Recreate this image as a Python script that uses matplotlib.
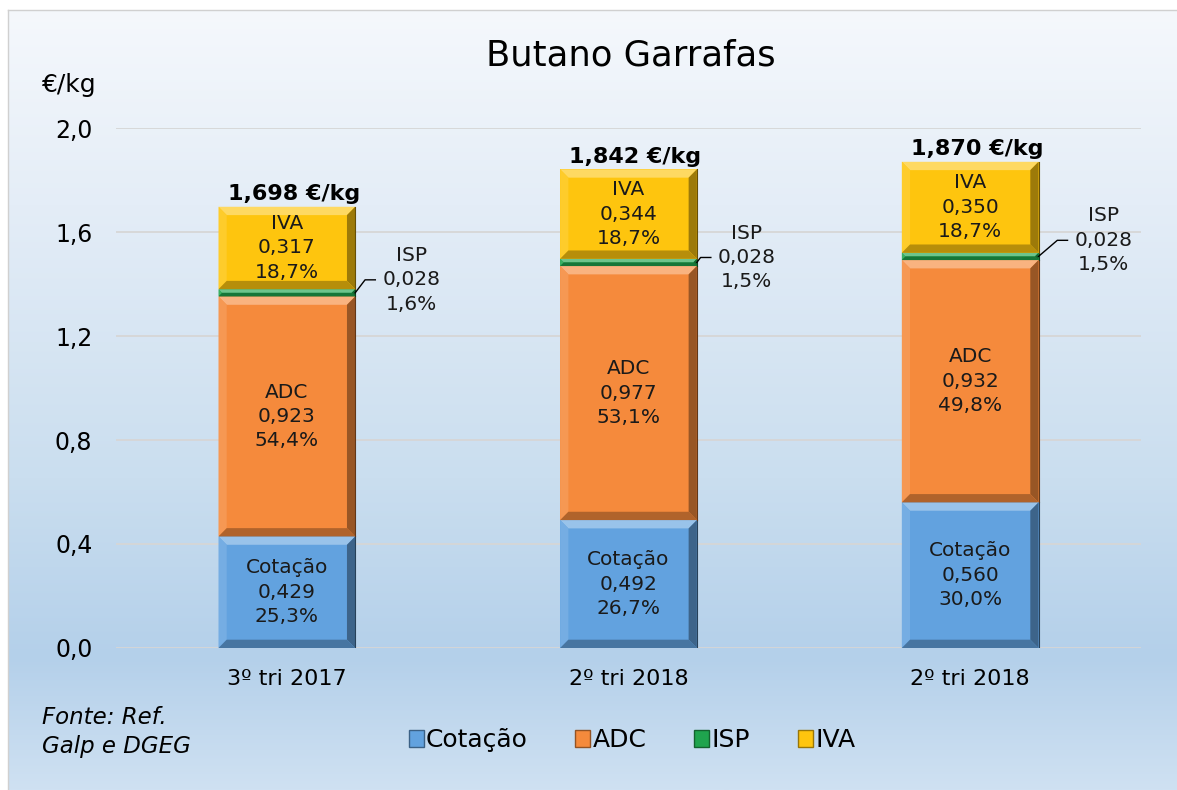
import numpy as np
import matplotlib
matplotlib.use("Agg")
import matplotlib.pyplot as plt
from matplotlib.patches import Polygon, Patch
from matplotlib.colors import to_rgb

# dados (€/kg)
categorias = ["3º tri 2017", "2º tri 2018", "2º tri 2018"]
cotacao = [0.429, 0.492, 0.560]
adc = [0.923, 0.977, 0.932]
isp = [0.028, 0.028, 0.028]
iva = [0.317, 0.344, 0.350]
totais = ["1,698 €/kg", "1,842 €/kg", "1,870 €/kg"]
pct_cotacao = ["25,3%", "26,7%", "30,0%"]
pct_adc = ["54,4%", "53,1%", "49,8%"]
pct_isp = ["1,6%", "1,5%", "1,5%"]
pct_iva = ["18,7%", "18,7%", "18,7%"]
yticks = [0.0, 0.4, 0.8, 1.2, 1.6, 2.0]

nomes = ["Cotação", "ADC", "ISP", "IVA"]
cores = ["#62a2df", "#f58a3c", "#1fa44e", "#fec50e"]

plt.rcParams['font.family'] = ['DejaVu Sans']

def mistura(c, alvo, t):
    c = np.array(to_rgb(c))
    return tuple(c + (np.array(alvo) - c) * t)

def bisel(ax, p, cor):
    # efeito "bevel" do Excel
    x0, y0 = p.get_x(), p.get_y()
    x1, y1 = x0 + p.get_width(), y0 + p.get_height()
    bx = 0.024
    by = min(0.032, (y1 - y0) / 2)
    bxx = min(bx, by * 0.75) if by < 0.03 else bx
    lados = [
        ([(x0, y1), (x1, y1), (x1 - bxx, y1 - by), (x0 + bxx, y1 - by)], mistura(cor, (1, 1, 1), 0.35)),
        ([(x0, y0), (x0, y1), (x0 + bxx, y1 - by), (x0 + bxx, y0 + by)], mistura(cor, (1, 1, 1), 0.12)),
        ([(x1, y0), (x1, y1), (x1 - bxx, y1 - by), (x1 - bxx, y0 + by)], mistura(cor, (0, 0, 0), 0.38)),
        ([(x0, y0), (x1, y0), (x1 - bxx, y0 + by), (x0 + bxx, y0 + by)], mistura(cor, (0, 0, 0), 0.28)),
    ]
    for pts, c in lados:
        ax.add_patch(Polygon(pts, closed=True, facecolor=c, edgecolor='none', zorder=3))
    ax.plot([x1, x1], [y0, y1], color=mistura(cor, (0, 0, 0), 0.6), lw=0.8, zorder=4)

W, H = 1177, 790
fig = plt.figure(figsize=(W / 100, H / 100), dpi=100)
fig.patch.set_facecolor('white')

# fundo em degradê
bg = fig.add_axes([8 / W, 0, 1 - 8 / W, 1 - 10 / H], zorder=-10)
ys = np.linspace(0, 1, 400)
stops_y = [0.0, 0.25, 0.6, 0.83, 1.0]
stops_c = [np.array(to_rgb(c)) for c in ["#f5f8fc", "#e4edf7", "#cadeef", "#b4d0ea", "#cfe1f2"]]
grad = np.zeros((400, 1, 3))
for k in range(3):
    grad[:, 0, k] = np.interp(ys, stops_y, [c[k] for c in stops_c])
bg.imshow(grad, aspect='auto', extent=[0, 1, 1, 0])
bg.set_xlim(0, 1)
bg.set_ylim(1, 0)
bg.axis('off')
fig.add_artist(plt.Line2D([8 / W, 8 / W], [0, 1 - 10 / H], color='#d0d0d0', lw=1))
fig.add_artist(plt.Line2D([8 / W, 1], [1 - 10 / H, 1 - 10 / H], color='#d0d0d0', lw=1))

ax = fig.add_axes([116 / W, 1 - 648 / H, 1025 / W, 520 / H])
ax.set_facecolor('none')
x = np.arange(len(categorias))
largura = 0.4

series = [cotacao, adc, isp, iva]
base = np.zeros(len(x))
for vals, cor, nome in zip(series, cores, nomes):
    b = ax.bar(x, vals, largura, bottom=base, color=cor, zorder=2, label=nome)
    for p in b.patches:
        bisel(ax, p, cor)
    base = base + np.array(vals)

# rótulos dentro das barras
fs = 14.5
rot_dentro = [(cotacao, pct_cotacao, "Cotação", 0), (adc, pct_adc, "ADC", 1), (iva, pct_iva, "IVA", 3)]
acum = np.cumsum(np.array(series), axis=0)
for vals, pcts, nome, k in rot_dentro:
    for i in range(len(x)):
        meio = acum[k][i] - vals[i] / 2
        txt = f"{nome}\n{vals[i]:.3f}".replace(".", ",") + f"\n{pcts[i]}"
        ax.text(x[i], meio, txt, ha='center', va='center', fontsize=fs,
                linespacing=1.36, color='#1a1a1a', zorder=5)

# ISP fora da barra, com linha de chamada
isp_dx = [0.164, 0.146, 0.19]
isp_dy = [0.05, 0.019, 0.062]
for i in range(len(x)):
    meio = acum[2][i] - isp[i] / 2
    xr = x[i] + largura / 2
    cx, cy = xr + isp_dx[i], meio + isp_dy[i]
    ax.text(cx, cy, f"ISP\n{isp[i]:.3f}".replace(".", ",") + f"\n{pct_isp[i]}",
            ha='center', va='center', fontsize=fs, linespacing=1.36, color='#1a1a1a', zorder=5)
    ax.plot([xr, cx - 0.135, cx - 0.105], [meio, cy, cy], color='black', lw=1, zorder=5)

# totais
for i in range(len(x)):
    ax.text(x[i] + 0.02, acum[3][i] + 0.01, totais[i], ha='center', va='bottom',
            fontsize=16, fontweight='bold', color='black', zorder=5)

ax.set_xlim(-0.5, 2.5)
ax.set_ylim(0, 2.0)
ax.set_yticks(yticks)
ax.set_yticklabels([f"{v:.1f}".replace(".", ",") for v in yticks], fontsize=17)
ax.set_xticks(x)
ax.set_xticklabels(categorias, fontsize=16)
ax.tick_params(axis='y', length=0, pad=17)
ax.tick_params(axis='x', length=0, pad=15)
ax.grid(axis='y', color='#d6d6d6', lw=1.3, zorder=0)
ax.set_axisbelow(True)
for s in ax.spines.values():
    s.set_visible(False)

fig.text(631 / W, 1 - 55 / H, "Butano Garrafas", fontsize=25.5, ha='center', va='center')
fig.text(42 / W, 1 - 85 / H, "€/kg", fontsize=18, ha='left', va='center')
fig.text(42 / W, 1 - 717 / H, "Fonte: Ref.", fontsize=16.5, style='italic', ha='left', va='center')
fig.text(42 / W, 1 - 746 / H, "Galp e DGEG", fontsize=16.5, style='italic', ha='left', va='center')

handles = [Patch(facecolor=c, edgecolor=mistura(c, (0, 0, 0), 0.4)) for c in cores]
fig.legend(handles, nomes, loc='center', bbox_to_anchor=(632 / W, 1 - 740 / H), ncol=4,
           frameon=False, fontsize=18, handlelength=0.6, handleheight=0.7,
           handletextpad=0.1, columnspacing=1.9)

fig.savefig("out.png", dpi=100)
